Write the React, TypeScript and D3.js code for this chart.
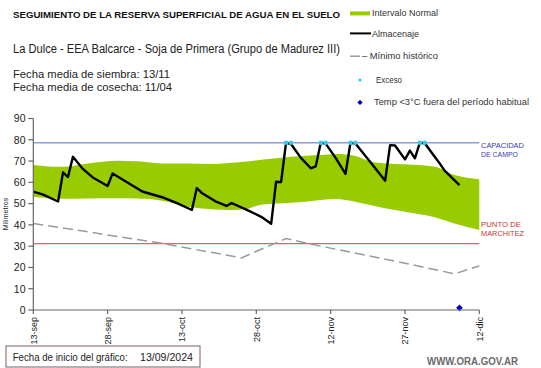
import React from "react";
import * as d3 from "d3";

const START = Date.UTC(2024, 8, 13);
const tickDays = [0, 15, 30, 45, 60, 75, 90];
const tickLabels = ["13-sep", "28-sep", "13-oct", "28-oct", "12-nov", "27-nov", "12-dic"];
const yTicks = [0, 10, 20, 30, 40, 50, 60, 70, 80, 90];

// Almacenaje (days from 13/09)
const almDays = [0, 2, 5, 6, 7, 8, 10, 12, 15, 16, 18, 22, 26, 29, 32, 33, 34, 37, 39, 40, 43, 46, 48, 49, 50, 51, 52, 54, 56, 57, 58, 59, 61, 63, 64, 65, 68, 71, 72, 73, 75, 76, 77, 78, 79, 81, 82, 83, 86];
const almValues = [55.6, 54.2, 51.0, 64.7, 62.5, 72.0, 66.3, 62.3, 58.3, 64.2, 61.3, 55.7, 53.0, 50.2, 47.0, 57.3, 55.0, 50.8, 48.9, 50.3, 47.2, 43.8, 40.5, 60.3, 60.1, 78.6, 78.0, 71.5, 66.6, 67.5, 78.6, 78.2, 71.5, 64.0, 78.6, 78.2, 69.5, 60.8, 77.5, 77.3, 70.8, 74.9, 71.3, 78.6, 78.4, 72.0, 68.9, 65.5, 58.7];

// Intervalo normal
const bandDays = [0, 3, 6, 11, 17, 21, 26, 31, 36, 40, 43, 46, 49, 52, 55, 58, 61, 65, 68, 71, 75, 81, 85, 90];
const bandLow = [53.2, 52.5, 52.3, 52.4, 52.5, 52.4, 51.4, 48.6, 47.3, 47.0, 47.5, 49.5, 50.0, 50.4, 50.9, 51.7, 52.2, 50.9, 49.3, 47.8, 46.2, 43.6, 40.7, 37.6];
const bandHigh = [68.1, 67.5, 67.3, 68.9, 70.2, 69.9, 68.9, 68.8, 68.6, 69.2, 69.8, 70.6, 71.3, 72.0, 72.5, 72.8, 73.3, 72.4, 69.8, 68.9, 68.5, 67.3, 63.4, 61.4];

// Mínimo histórico
const minDays = [0, 26, 42, 51, 58, 75, 85, 90];
const minValues = [40.7, 31.3, 24.5, 33.6, 30.0, 22.0, 17.0, 20.7];

const excesoDays = [51, 52, 58, 59, 64, 65, 78, 79];
const frostDays = [86];
const frostValues = [1];

const capacidad = 78.6;
const marchitez = 31.2;

const FONT = "'Liberation Sans', Arial, sans-serif";

const toDate = (d: number) => d3.utcDay.offset(new Date(START), d);

export default function App() {
  const x = d3.scaleUtc().domain([toDate(0), toDate(90)]).range([33.3, 479.3]);
  const y = d3.scaleLinear().domain([0, 90]).range([310, 118.5]);

  const alm = almDays.map((d, i) => ({ d, v: almValues[i] }));
  const band = bandDays.map((d, i) => ({ d, lo: bandLow[i], hi: bandHigh[i] }));
  const mins = minDays.map((d, i) => ({ d, v: minValues[i] }));

  const areaGen = d3
    .area<{ d: number; lo: number; hi: number }>()
    .x((p) => x(toDate(p.d)))
    .y0((p) => y(p.lo))
    .y1((p) => y(p.hi))
    .curve(d3.curveMonotoneX);
  const lineGen = d3
    .line<{ d: number; v: number }>()
    .x((p) => x(toDate(p.d)))
    .y((p) => y(p.v));

  const x0 = x(toDate(0));
  const x1 = x(toDate(90));
  const diamondSmall = d3.symbol(d3.symbolSquare, 14)() || "";
  const diamondBig = d3.symbol(d3.symbolSquare, 22)() || "";

  return (
    <svg
      width={541}
      height={368}
      style={{ position: "absolute", left: 0, top: 0, background: "#fff" }}
      fontFamily={FONT}
    >
      <rect x={0} y={0} width={541} height={368} fill="#fff" />
      {/* Header texts */}
      <text x={13} y={18} fontSize={9.5} fontWeight="bold" fill="#111" textLength={327} lengthAdjust="spacingAndGlyphs">
        SEGUIMIENTO DE LA RESERVA SUPERFICIAL DE AGUA EN EL SUELO
      </text>
      <text x={13} y={52.5} fontSize={12} fill="#222" textLength={327} lengthAdjust="spacingAndGlyphs">
        La Dulce - EEA Balcarce - Soja de Primera (Grupo  de Madurez III)
      </text>
      <text x={13} y={78.3} fontSize={11} fill="#222" textLength={157} lengthAdjust="spacingAndGlyphs">
        Fecha media de siembra: 13/11
      </text>
      <text x={13} y={90.5} fontSize={11} fill="#222" textLength={159} lengthAdjust="spacingAndGlyphs">
        Fecha media de cosecha: 11/04
      </text>

      {/* Legend */}
      <rect x={350} y={11.4} width={20} height={4} fill="#99cc00" />
      <text x={372} y={15.5} fontSize={9} fill="#333" textLength={66} lengthAdjust="spacingAndGlyphs">Intervalo Normal</text>
      <line x1={350} x2={371} y1={33.4} y2={33.4} stroke="#000" strokeWidth={2} />
      <text x={372} y={36.5} fontSize={9} fill="#333" textLength={47} lengthAdjust="spacingAndGlyphs">Almacenaje</text>
      <line x1={350} x2={360} y1={56.2} y2={56.2} stroke="#999" strokeWidth={1.5} />
      <text x={362} y={59.3} fontSize={9} fill="#333" textLength={76} lengthAdjust="spacingAndGlyphs">– Mínimo histórico</text>
      <circle cx={360} cy={80} r={1.6} fill="#33ccee" />
      <text x={376} y={82.8} fontSize={9} fill="#333" textLength={26} lengthAdjust="spacingAndGlyphs">Exceso</text>
      <path d={diamondSmall} transform="translate(360,102.4) rotate(45)" fill="#0000cc" />
      <text x={374} y={105} fontSize={9} fill="#333" textLength={155} lengthAdjust="spacingAndGlyphs">Temp &lt;3°C fuera del período habitual</text>

      {/* Band */}
      <path d={areaGen(band) || ""} fill="#99cc00" />

      {/* Reference lines */}
      <line x1={x0} x2={x1} y1={y(capacidad)} y2={y(capacidad)} stroke="#8c9fd9" strokeWidth={1.4} />
      <line x1={x0} x2={x1} y1={y(marchitez)} y2={y(marchitez)} stroke="#c46e6e" strokeWidth={1.4} />
      <text x={481} y={147.7} fontSize={7.6} fill="#3a3aaa" textLength={43} lengthAdjust="spacingAndGlyphs">CAPACIDAD</text>
      <text x={481} y={156.7} fontSize={7.6} fill="#3a3aaa" textLength={37} lengthAdjust="spacingAndGlyphs">DE  CAMPO</text>
      <text x={481} y={226.7} fontSize={7.6} fill="#cc3333" textLength={40} lengthAdjust="spacingAndGlyphs">PUNTO  DE</text>
      <text x={481} y={235.7} fontSize={7.6} fill="#cc3333" textLength={43} lengthAdjust="spacingAndGlyphs">MARCHITEZ</text>

      {/* Mínimo histórico */}
      <path d={lineGen(mins) || ""} fill="none" stroke="#9a9a9a" strokeWidth={1.5} strokeDasharray="10,5" />

      {/* Almacenaje */}
      <path d={lineGen(alm) || ""} fill="none" stroke="#000" strokeWidth={2.4} strokeLinejoin="round" />

      {/* Exceso */}
      {excesoDays.map((d, i) => (
        <circle key={i} cx={x(toDate(d))} cy={y(capacidad)} r={2.3} fill="#33ccee" />
      ))}

      {/* Frost */}
      {frostDays.map((d, i) => (
        <path key={i} d={diamondBig} transform={`translate(${x(toDate(d))},${y(frostValues[i])}) rotate(45)`} fill="#0000cc" />
      ))}

      {/* Y axis */}
      <line x1={x0} x2={x0} y1={y(90)} y2={y(0)} stroke="#666" strokeWidth={1.2} />
      {yTicks.map((t) => (
        <g key={t}>
          <line x1={x0 - 5} x2={x0} y1={y(t)} y2={y(t)} stroke="#666" strokeWidth={1.2} />
          <text x={25.5} y={y(t) + 3.8} fontSize={10.5} textAnchor="end" fill="#222">{t}</text>
        </g>
      ))}
      <text transform={`translate(7.5,214) rotate(-90)`} fontSize={7} textAnchor="middle" fill="#222">Milímetros</text>

      {/* X axis */}
      <line x1={x0} x2={x1} y1={y(0)} y2={y(0)} stroke="#666" strokeWidth={1.2} />
      {tickDays.map((d, i) => {
        const xx = x(toDate(d));
        return (
          <g key={d}>
            <line x1={xx} x2={xx} y1={y(0)} y2={y(0) + 4} stroke="#666" strokeWidth={1.2} />
            <text transform={`translate(${xx + 3.3},317) rotate(-90)`} fontSize={9} textAnchor="end" fill="#222">
              {tickLabels[i]}
            </text>
          </g>
        );
      })}

      {/* Footer */}
      <rect x={6} y={346} width={194} height={21} fill="#fff" stroke="#8a7a7a" strokeWidth={1.2} />
      <text x={12.7} y={361} fontSize={10.5} fill="#222" textLength={115} lengthAdjust="spacingAndGlyphs">Fecha de inicio del gráfico:</text>
      <text x={140} y={361} fontSize={10.5} fill="#222" textLength={53} lengthAdjust="spacingAndGlyphs">13/09/2024</text>
      <text x={427} y={365} fontSize={10} fontWeight="bold" fill="#6a6a6a" textLength={91} lengthAdjust="spacingAndGlyphs">WWW.ORA.GOV.AR</text>
    </svg>
  );
}
